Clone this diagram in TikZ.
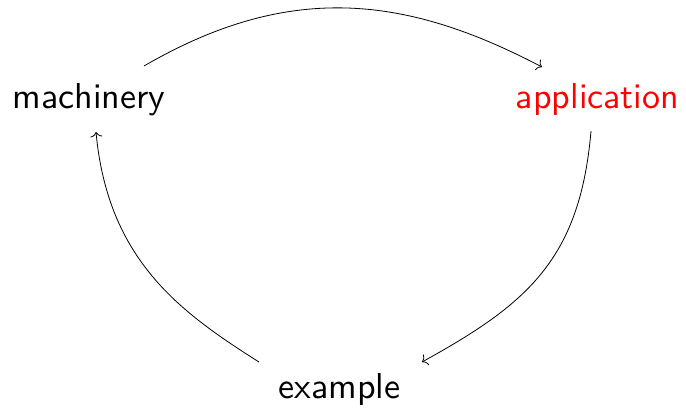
\documentclass[tikz,border=0pt]{standalone}
\usepackage{fontspec}
\usetikzlibrary{arrows.meta}
% Latin Modern Sans at its 10pt design size, scaled up
\newfontfamily\labelfont{lmsans10-regular.otf}
\begin{document}
\begin{tikzpicture}[x=1pt,y=-1pt,
  term/.style={inner sep=0pt,anchor=base,
    font=\fontsize{36}{43}\selectfont\labelfont},
  flow/.style={line width=0.8pt,-{To[length=5pt,width=12pt]}}]
  \useasboundingbox (0,0) rectangle (686,408);
  \node[term] (m) at (89,108.3) {machinery};
  \node[term,text=red] (a) at (597.5,108.3) {application};
  \node[term] (e) at (339.5,398.3) {example};
  \draw[flow] ([shift={(55,-42.3)}]m.base)
    .. controls (289.7,-18.6) and (406,-4.3) .. ([shift={(-55.5,-41.3)}]a.base);
  \draw[flow] ([shift={(-6.5,22.7)}]a.base)
    .. controls (580,260) and (526.4,304.4) .. ([shift={(82.5,-36.3)}]e.base);
  \draw[flow] ([shift={(-80.5,-36.3)}]e.base)
    .. controls (180,312) and (108,260) .. ([shift={(7,23.7)}]m.base);
\end{tikzpicture}
\end{document}
